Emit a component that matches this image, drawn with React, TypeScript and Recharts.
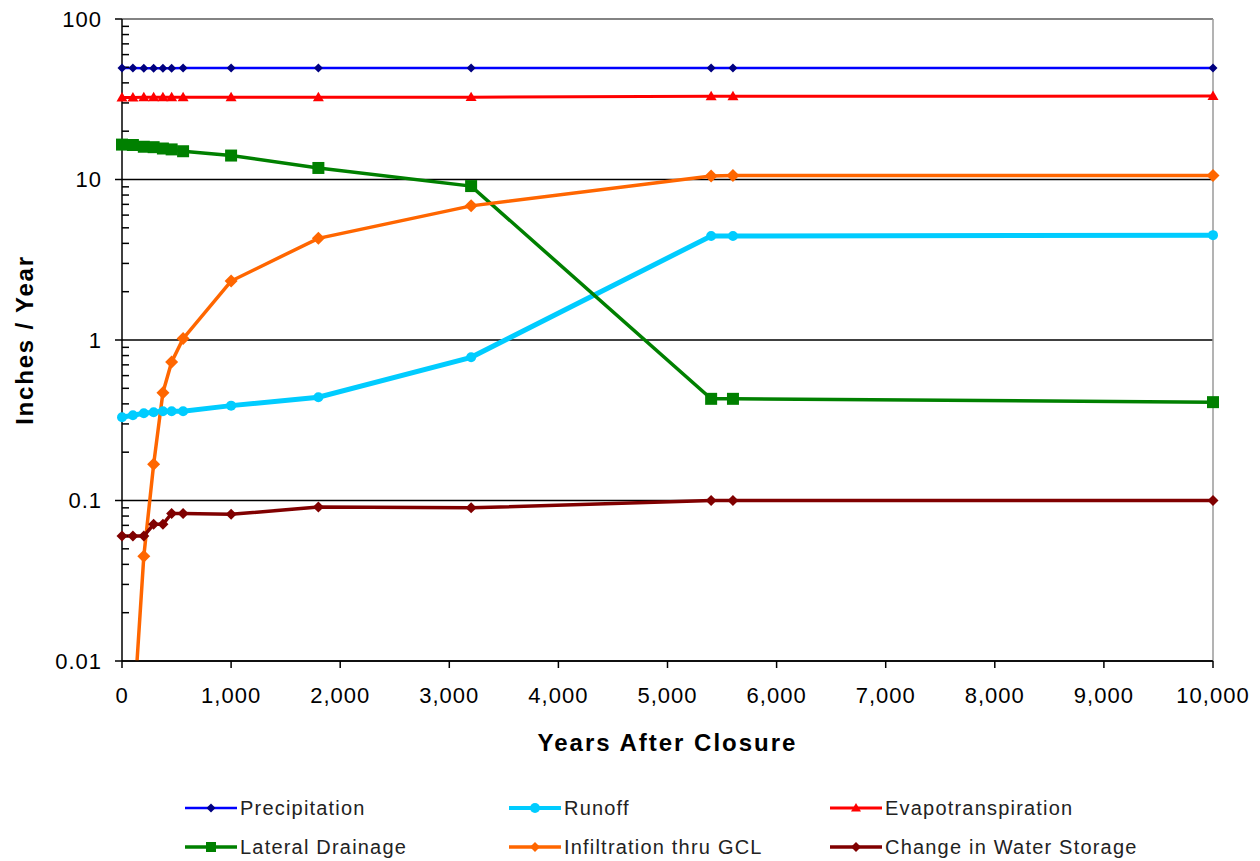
import React from 'react'
import { LineChart, Line, XAxis, YAxis, CartesianGrid, ReferenceLine, Label } from 'recharts'

const years = [0, 100, 200, 290, 375, 455, 560, 1000, 1800, 3200, 5400, 5600, 10000]

const precipitation = [49.5, 49.5, 49.4, 49.4, 49.4, 49.4, 49.5, 49.5, 49.5, 49.5, 49.5, 49.5, 49.5]
const runoff = [0.33, 0.34, 0.35, 0.355, 0.36, 0.36, 0.36, 0.39, 0.44, 0.78, 4.45, 4.45, 4.5]
const evapotranspiration = [32.4, 32.4, 32.5, 32.5, 32.5, 32.5, 32.5, 32.5, 32.5, 32.6, 33.0, 33.0, 33.1]
const lateralDrainage = [16.5, 16.4, 16.0, 15.9, 15.6, 15.4, 15.0, 14.1, 11.8, 9.1, 0.43, 0.43, 0.41]
const infiltration = [null, 0.004, 0.045, 0.168, 0.47, 0.73, 1.02, 2.33, 4.3, 6.85, 10.5, 10.6, 10.6]
const waterStorage = [0.06, 0.06, 0.06, 0.071, 0.071, 0.083, 0.083, 0.082, 0.091, 0.09, 0.1, 0.1, 0.1]

const xTicks = [0, 1000, 2000, 3000, 4000, 5000, 6000, 7000, 8000, 9000, 10000]
const yTicks = [0.01, 0.1, 1, 10, 100]
const yMinorTicks = [
  0.02, 0.03, 0.04, 0.05, 0.06, 0.07, 0.08, 0.09,
  0.2, 0.3, 0.4, 0.5, 0.6, 0.7, 0.8, 0.9,
  2, 3, 4, 5, 6, 7, 8, 9,
  20, 30, 40, 50, 60, 70, 80, 90,
]

const data = years.map((year, i) => ({
  year,
  precipitation: precipitation[i],
  runoff: runoff[i],
  evapotranspiration: evapotranspiration[i],
  lateralDrainage: lateralDrainage[i],
  infiltration: infiltration[i],
  waterStorage: waterStorage[i],
}))

type Shape = 'diamond' | 'triangle' | 'square' | 'circle'

// legend order: row by row, three columns
const series: { key: string; name: string; color: string; marker: string; shape: Shape; size: number; width: number; axis: string }[] = [
  { key: 'precipitation', name: 'Precipitation', color: '#0000FF', marker: '#000080', shape: 'diamond', size: 4.5, width: 2.5, axis: 'free' },
  { key: 'runoff', name: 'Runoff', color: '#00CCFF', marker: '#00CCFF', shape: 'circle', size: 5, width: 5, axis: 'free' },
  { key: 'evapotranspiration', name: 'Evapotranspiration', color: '#FF0000', marker: '#FF0000', shape: 'triangle', size: 5.5, width: 3, axis: 'free' },
  { key: 'lateralDrainage', name: 'Lateral Drainage', color: '#008000', marker: '#008000', shape: 'square', size: 6, width: 3.5, axis: 'free' },
  { key: 'infiltration', name: 'Infiltration thru GCL', color: '#FF6600', marker: '#FF6600', shape: 'diamond', size: 6.5, width: 3.5, axis: 'main' },
  { key: 'waterStorage', name: 'Change in Water Storage', color: '#800000', marker: '#800000', shape: 'diamond', size: 5.5, width: 3.5, axis: 'free' },
]

const FONT = '"Liberation Sans", Arial, sans-serif'

function markerPath(shape: Shape, cx: number, cy: number, s: number) {
  switch (shape) {
    case 'diamond':
      return `M${cx},${cy - s}L${cx + s},${cy}L${cx},${cy + s}L${cx - s},${cy}Z`
    case 'triangle':
      return `M${cx},${cy - s}L${cx + s},${cy + s * 0.7}L${cx - s},${cy + s * 0.7}Z`
    case 'square':
      return `M${cx - s},${cy - s}h${2 * s}v${2 * s}h${-2 * s}Z`
    default:
      return `M${cx - s},${cy}a${s},${s} 0 1,0 ${2 * s},0a${s},${s} 0 1,0 ${-2 * s},0`
  }
}

const makeDot = (shape: Shape, color: string, size: number) => (props: any) => {
  const { cx, cy, index, value } = props
  if (cx == null || cy == null || value == null) return <g key={`d-${index}`} />
  return <path key={`d-${index}`} d={markerPath(shape, cx, cy, size)} fill={color} stroke="none" />
}

const noLabel = () => <g />

function ChartLegend() {
  const cols = [184, 508, 829]
  const rows = [808, 847]
  return (
    <>
      {series.map((s, i) => (
        <div
          key={s.key}
          style={{
            position: 'absolute',
            left: cols[i % 3],
            top: rows[Math.floor(i / 3)] - 12,
            height: 24,
            display: 'flex',
            alignItems: 'center',
            fontFamily: FONT,
            fontSize: 20,
            letterSpacing: 1.2,
            color: '#222',
            whiteSpace: 'nowrap',
          }}
        >
          <svg width={54} height={14} style={{ marginRight: 2 }}>
            <line x1={1} y1={7} x2={53} y2={7} stroke={s.color} strokeWidth={Math.min(s.width, 4)} />
            <path d={markerPath(s.shape, 27, 7, Math.min(s.size, 5))} fill={s.marker} />
          </svg>
          {s.name}
        </div>
      ))}
    </>
  )
}

export default function App() {
  const tickStyle = { fontFamily: FONT, fontSize: 22, letterSpacing: 1, fill: '#000' }
  return (
    <div style={{ position: 'fixed', left: 0, top: 0, width: 1260, height: 861, background: '#fff' }}>
      <LineChart width={1260} height={861} data={data} margin={{ top: 19, right: 47, bottom: 100, left: 0 }}>
        <CartesianGrid yAxisId="main" vertical={false} stroke="#000" strokeWidth={1.5} />
        <XAxis
          dataKey="year"
          type="number"
          domain={[0, 10000]}
          ticks={xTicks}
          tickFormatter={(v: number) => v.toLocaleString('en-US')}
          height={100}
          tickSize={7}
          tickMargin={19}
          tick={tickStyle}
          axisLine={{ stroke: '#000', strokeWidth: 1.5 }}
          tickLine={{ stroke: '#000', strokeWidth: 1.5 }}
        >
          <Label
            content={(p: any) => {
              const vb = p.viewBox
              return (
                <text
                  x={vb.x + vb.width / 2}
                  y={vb.y + 81}
                  textAnchor="middle"
                  dominantBaseline="central"
                  style={{ fontFamily: FONT, fontSize: 24, fontWeight: 'bold', letterSpacing: 2 }}
                  fill="#000"
                >
                  Years After Closure
                </text>
              )
            }}
          />
        </XAxis>
        <YAxis
          yAxisId="main"
          scale="log"
          domain={[0.01, 100]}
          allowDataOverflow
          ticks={yTicks}
          tickFormatter={(v: number) => String(v)}
          width={122}
          tickSize={7}
          tickMargin={13}
          tick={tickStyle}
          axisLine={{ stroke: '#000', strokeWidth: 1.5 }}
          tickLine={{ stroke: '#000', strokeWidth: 1.5 }}
        >
          <Label
            content={(p: any) => {
              const vb = p.viewBox
              const cy = vb.y + vb.height / 2
              return (
                <text
                  x={24}
                  y={cy}
                  transform={`rotate(-90, 24, ${cy})`}
                  textAnchor="middle"
                  dominantBaseline="central"
                  style={{ fontFamily: FONT, fontSize: 24, fontWeight: 'bold', letterSpacing: 1.8 }}
                  fill="#000"
                >
                  Inches / Year
                </text>
              )
            }}
          />
        </YAxis>
        <YAxis
          yAxisId="minor"
          scale="log"
          domain={[0.01, 100]}
          allowDataOverflow
          ticks={yMinorTicks}
          interval={0}
          mirror
          width={1}
          tick={noLabel}
          axisLine={false}
          tickSize={7}
          tickLine={{ stroke: '#000', strokeWidth: 1.5 }}
        />
        <YAxis yAxisId="free" scale="log" domain={[0.01, 100]} width={0} hide />
        <ReferenceLine yAxisId="main" y={100} stroke="#9a9a9a" strokeWidth={1.5} />
        <ReferenceLine yAxisId="main" x={10000} stroke="#9a9a9a" strokeWidth={1.5} />
        {series.map((s) => (
          <Line
            key={s.key}
            yAxisId={s.axis}
            dataKey={s.key}
            name={s.name}
            type="linear"
            stroke={s.color}
            strokeWidth={s.width}
            dot={makeDot(s.shape, s.marker, s.size)}
            activeDot={false}
            isAnimationActive={false}
          />
        ))}
      </LineChart>
      <ChartLegend />
    </div>
  )
}
